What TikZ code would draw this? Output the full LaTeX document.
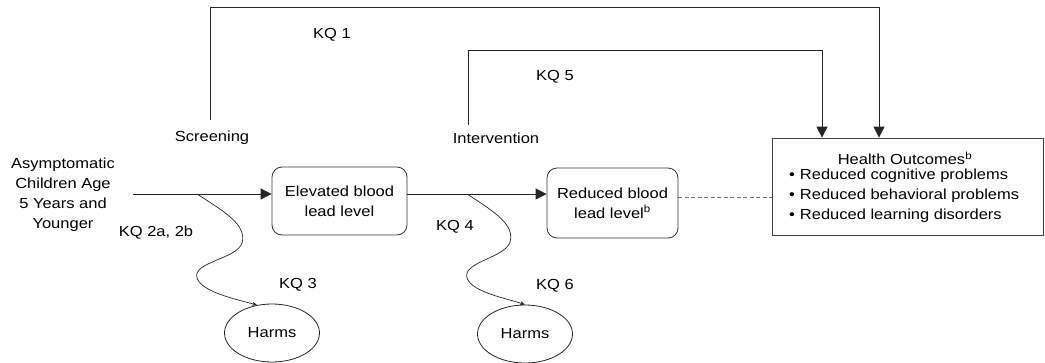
\documentclass[tikz,border=0pt]{standalone}
\usepackage{fontspec}
\setmainfont{Liberation Sans}[FakeStretch=1.13]
\usetikzlibrary{arrows.meta,shapes.geometric,calc}
\begin{document}
\begin{tikzpicture}[x=1pt,y=-1pt,
  every node/.style={font=\fontsize{14.6}{20}\selectfont, inner sep=0pt},
  ln/.style={draw=black!85, line width=0.8pt},
  arr/.style={ln, -{Triangle[length=11pt,width=11pt]}},
  sq/.style={draw=black!85, line width=0.7pt, -{Stealth[length=5pt,width=4pt]}},
  rbox/.style={draw=black!80, line width=0.8pt, rounded corners=10pt, align=center},
  hbox/.style={draw=black!75, line width=0.8pt, minimum width=271pt, minimum height=97pt},
  harm/.style={draw=black!85, line width=0.8pt, ellipse, minimum width=95pt, minimum height=58pt},
  lbl/.style={align=center}]
\useasboundingbox (0,0) rectangle (1045,362);
% nodes
\node[lbl] (src) at (63,195) {Asymptomatic\\Children Age\\5 Years and\\Younger};
\node[rbox, minimum width=135pt, minimum height=68pt] (elev) at (339.5,201) {Elevated blood\\lead level};
\node[rbox, minimum width=131pt, minimum height=70pt] (red) at (612.5,203) {Reduced blood\\lead level\textsuperscript{b}};
\node[hbox] (health) at (907.5,186.5) {};
\node (hh) at (905,158) {Health Outcomes\textsuperscript{b}};
\node[anchor=west] (o1) at (789,176) {\textbullet\hspace{5pt}Reduced cognitive problems};
\node[anchor=west] (o2) at (789,196) {\textbullet\hspace{5pt}Reduced behavioral problems};
\node[anchor=west] (o3) at (789,216) {\textbullet\hspace{5pt}Reduced learning disorders};
\node[harm] (h1) at (272,333) {Harms};
\node[harm] (h2) at (525,334) {Harms};
% labels
\node (scr) at (212,138) {Screening};
\node (int) at (496,138) {Intervention};
\node (kq1) at (332,35) {KQ 1};
\node (kq5) at (555,77) {KQ 5};
\node (kq2) at (156,233) {KQ 2a, 2b};
\node (kq3) at (298,285) {KQ 3};
\node (kq4) at (455,227) {KQ 4};
\node (kq6) at (555,286) {KQ 6};
% coordinates
\coordinate (a0) at (133,194);
\coordinate (a1) at (407,194);
\coordinate (s1) at (197,194);
\coordinate (s2) at (467,194);
\coordinate (t1) at (210,120);
\coordinate (k1) at (879,7);
\coordinate (t5) at (468,125);
\coordinate (k5) at (822,50);
\coordinate (d0) at (678,197);
% connectors
\draw[arr] (a0) -- (a0 -| elev.west);
\draw[arr] (a1) -- (a1 -| red.west);
\draw[ln, dashed, draw=black!55, dash pattern=on 4pt off 2.5pt] (d0) -- (d0 -| health.west);
\draw[arr] (t1) |- (k1) -- (k1 |- health.north);
\draw[arr] (t5) |- (k5) -- (k5 |- health.north);
\draw[sq] (s1) .. controls (225,212) and (247,225) .. (242,243)
  .. controls (237,259) and (192,262) .. (197,278)
  .. controls (202,292) and (235,299) .. (h1.118);
\draw[sq] (s2) .. controls (495,212) and (515,225) .. (510,242)
  .. controls (505,258) and (462,262) .. (467,278)
  .. controls (472,292) and (505,298) .. (h2.north);
\end{tikzpicture}
\end{document}
